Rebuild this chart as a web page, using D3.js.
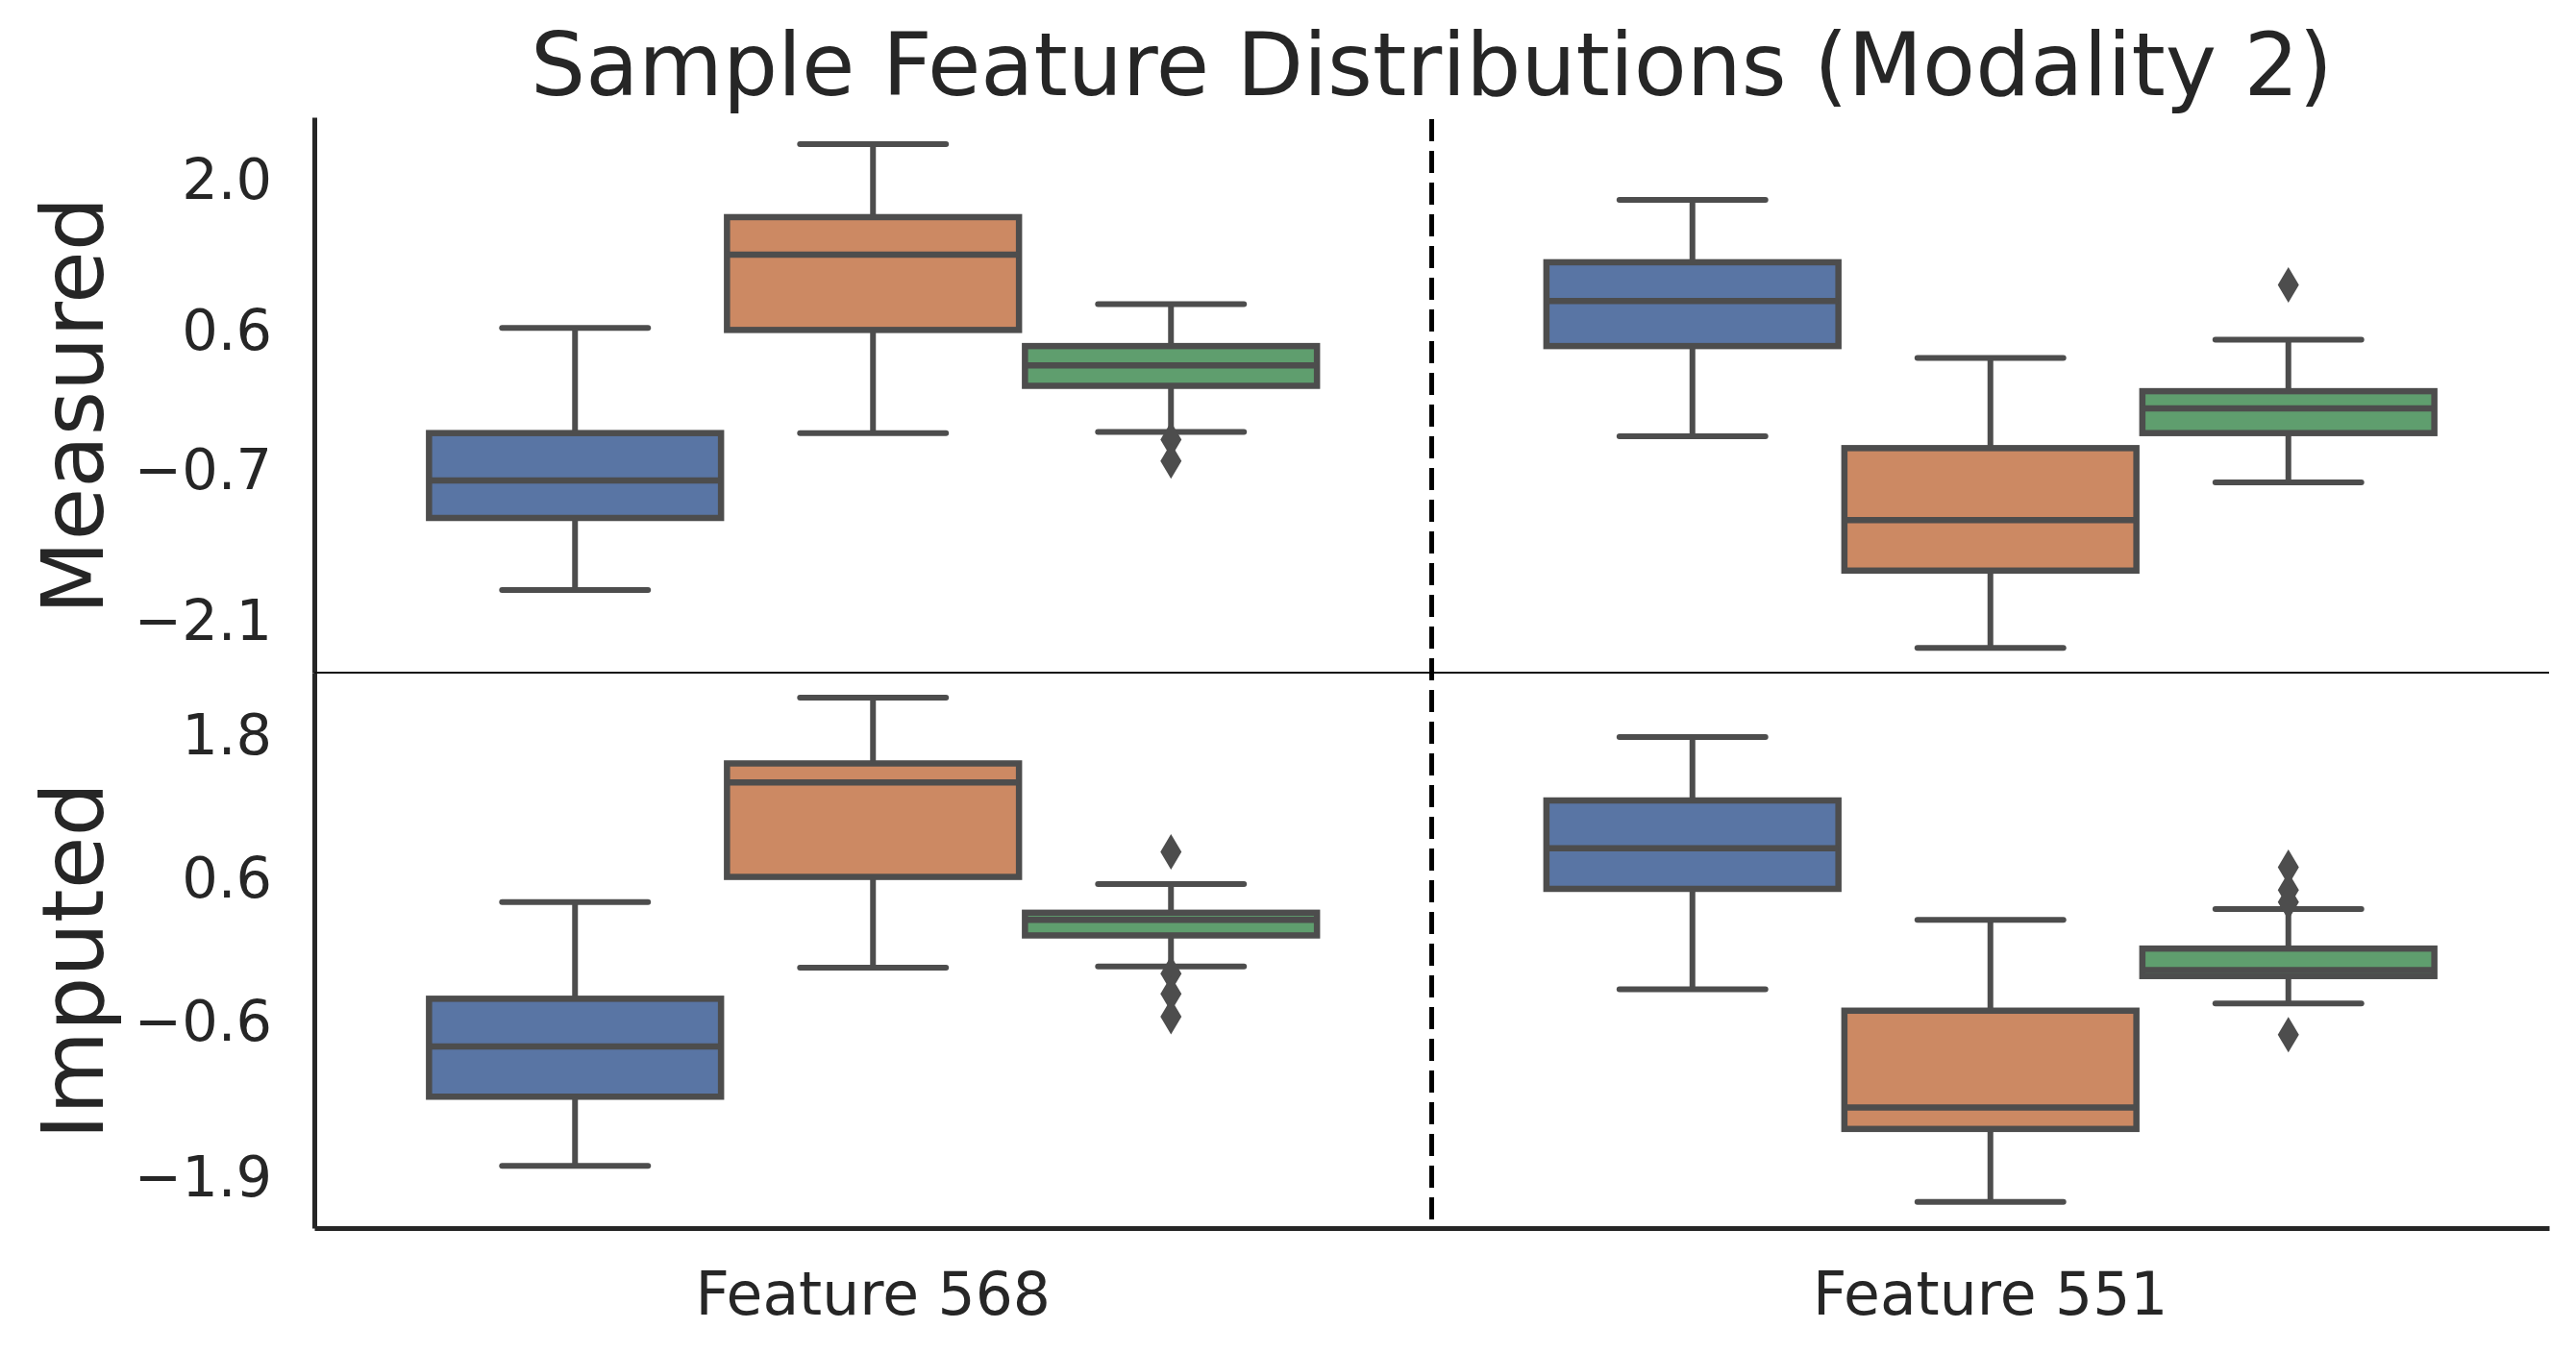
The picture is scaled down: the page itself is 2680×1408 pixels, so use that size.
<!DOCTYPE html>
<html>
<head>
<meta charset="utf-8">
<script src="https://cdn.jsdelivr.net/npm/d3@7"></script>
<style>
  body { margin: 0; background: #ffffff; }
  svg { display: block; font-family: "DejaVu Sans", sans-serif; }
</style>
</head>
<body>
<svg id="chart" width="2680" height="1408"></svg>
<script>
/** Categories on the x axis and the rows of the figure */
var features = ["Feature 568", "Feature 551"];
var panels = ["Measured", "Imputed"];

/** Colours of the three hue groups (seaborn deep, desaturated) */
var hueColors = ["#5975a4", "#cc8963", "#5f9e6e"];

/** Y tick values and y limits per row */
var measuredTicks = [2.0, 0.6, -0.7, -2.1];
var imputedTicks = [1.8, 0.6, -0.6, -1.9];
var measuredDomain = [-2.6, 2.57];
var imputedDomain = [-2.34, 2.31];

/** Box stats: [low whisker, Q1, median, Q3, high whisker], per feature then per hue */
var measuredStats = [
    [[-1.83, -1.16, -0.81, -0.37, 0.61], [-0.37, 0.59, 1.29, 1.64, 2.32], [-0.36, 0.07, 0.26, 0.44, 0.83]],
    [[-0.40, 0.44, 0.86, 1.22, 1.80], [-2.37, -1.65, -1.18, -0.51, 0.33], [-0.83, -0.37, -0.14, 0.02, 0.50]]
];
var imputedStats = [
    [[-1.82, -1.24, -0.82, -0.42, 0.39], [-0.16, 0.60, 1.39, 1.55, 2.10], [-0.15, 0.11, 0.24, 0.30, 0.54]],
    [[-0.34, 0.50, 0.84, 1.24, 1.77], [-2.12, -1.51, -1.33, -0.52, 0.24], [-0.46, -0.23, -0.18, 0.00, 0.33]]
];

/** Fliers, per feature then per hue */
var measuredOutliers = [[[], [], [-0.43, -0.63]], [[], [], [1.01]]];
var imputedOutliers = [[[], [], [0.81, -0.21, -0.38, -0.57]], [[], [], [0.68, 0.49, 0.39, -0.72]]];

/** Layout */
var plotLeft = 327, plotRight = 2652, plotTop = 122, panelHeight = 578;
var textColor = "#262626",
    lineColor = "#4d4d4d",
    lineWidth = 6;

var svg = d3.select("#chart");

var xScale = d3.scaleBand()
    .domain(features)
    .range([plotLeft, plotRight])
    .padding(0);

// hue offsets inside a category (seaborn width 0.8)
var hueScale = d3.scaleBand()
    .domain(d3.range(hueColors.length))
    .range([-0.4 * xScale.bandwidth(), 0.4 * xScale.bandwidth()]);

var boxWidth = hueScale.bandwidth() * 0.98;

var rows = [
    {name: panels[0], domain: measuredDomain, ticks: measuredTicks, stats: measuredStats, outliers: measuredOutliers},
    {name: panels[1], domain: imputedDomain, ticks: imputedTicks, stats: imputedStats, outliers: imputedOutliers}
];

rows.forEach(function(row, r) {
    var y0 = plotTop + r * panelHeight;
    var yScale = d3.scaleLinear()
        .domain(row.domain)
        .range([y0 + panelHeight, y0]);
    drawPanel(row, yScale, y0);
});

/**
 * Draws one row: left spine, tick labels, row label and the boxes.
 */
function drawPanel(row, yScale, y0) {
    var g = svg.append("g");

    var yAxis = d3.axisLeft(yScale)
        .tickValues(row.ticks)
        .tickFormat(d3.format(".1f"))
        .tickSize(0)
        .tickSizeOuter(0)
        .tickPadding(44);

    var axisG = g.append("g")
        .attr("transform", "translate(" + plotLeft + ",0)")
        .call(yAxis);
    axisG.select(".domain")
        .attr("stroke", textColor)
        .attr("stroke-width", 5);
    axisG.selectAll("text")
        .attr("font-family", "DejaVu Sans")
        .attr("font-size", 59)
        .attr("fill", textColor)
        .attr("dy", "0.36em");

    // row label
    g.append("text")
        .attr("transform", "translate(107," + (y0 + panelHeight / 2 + 11) + ") rotate(-90)")
        .attr("text-anchor", "middle")
        .attr("font-size", 89)
        .attr("fill", textColor)
        .text(row.name);

    // flatten boxes
    var boxes = [];
    features.forEach(function(f, i) {
        row.stats[i].forEach(function(s, h) {
            boxes.push({
                cx: xScale(f) + xScale.bandwidth() / 2 + hueScale(h) + hueScale.bandwidth() / 2,
                s: s,
                color: hueColors[h],
                fliers: row.outliers[i][h]
            });
        });
    });

    var bg = g.selectAll("g.box")
        .data(boxes)
        .enter()
        .append("g")
        .attr("class", "box");

    // whiskers
    bg.append("line")
        .attr("x1", function(d) { return d.cx; })
        .attr("x2", function(d) { return d.cx; })
        .attr("y1", function(d) { return yScale(d.s[0]); })
        .attr("y2", function(d) { return yScale(d.s[1]); })
        .attr("stroke", lineColor)
        .attr("stroke-width", lineWidth);
    bg.append("line")
        .attr("x1", function(d) { return d.cx; })
        .attr("x2", function(d) { return d.cx; })
        .attr("y1", function(d) { return yScale(d.s[3]); })
        .attr("y2", function(d) { return yScale(d.s[4]); })
        .attr("stroke", lineColor)
        .attr("stroke-width", lineWidth);

    // box
    bg.append("rect")
        .attr("x", function(d) { return d.cx - boxWidth / 2; })
        .attr("width", boxWidth)
        .attr("y", function(d) { return yScale(d.s[3]); })
        .attr("height", function(d) { return yScale(d.s[1]) - yScale(d.s[3]); })
        .attr("fill", function(d) { return d.color; })
        .attr("stroke", lineColor)
        .attr("stroke-width", lineWidth + 0.5);

    // median
    bg.append("line")
        .attr("x1", function(d) { return d.cx - boxWidth / 2; })
        .attr("x2", function(d) { return d.cx + boxWidth / 2; })
        .attr("y1", function(d) { return yScale(d.s[2]); })
        .attr("y2", function(d) { return yScale(d.s[2]); })
        .attr("stroke", lineColor)
        .attr("stroke-width", lineWidth + 0.5);

    // caps
    [0, 4].forEach(function(k) {
        bg.append("line")
            .attr("x1", function(d) { return d.cx - boxWidth / 4; })
            .attr("x2", function(d) { return d.cx + boxWidth / 4; })
            .attr("y1", function(d) { return yScale(d.s[k]); })
            .attr("y2", function(d) { return yScale(d.s[k]); })
            .attr("stroke", lineColor)
            .attr("stroke-width", lineWidth)
            .attr("stroke-linecap", "round");
    });

    // fliers as thin diamonds
    bg.selectAll("path.flier")
        .data(function(d) {
            return d.fliers.map(function(v) { return {cx: d.cx, v: v}; });
        })
        .enter()
        .append("path")
        .attr("class", "flier")
        .attr("d", "M0,-18.5L11,0L0,18.5L-11,0Z")
        .attr("transform", function(d) { return "translate(" + d.cx + "," + yScale(d.v) + ")"; })
        .attr("fill", lineColor);
}

// thin separator between the rows
svg.append("line")
    .attr("x1", plotLeft)
    .attr("x2", plotRight)
    .attr("y1", plotTop + panelHeight)
    .attr("y2", plotTop + panelHeight)
    .attr("stroke", "#111111")
    .attr("stroke-width", 2);

// x axis on the bottom row
var xAxis = d3.axisBottom(xScale)
    .tickSize(0)
    .tickSizeOuter(0)
    .tickPadding(46);

var xAxisG = svg.append("g")
    .attr("transform", "translate(0," + (plotTop + 2 * panelHeight) + ")")
    .call(xAxis);
xAxisG.select(".domain")
    .attr("stroke", textColor)
    .attr("stroke-width", 5);
xAxisG.selectAll("text")
    .attr("font-family", "DejaVu Sans")
    .attr("font-size", 61.5)
    .attr("fill", textColor);

// dashed divider between the features
svg.append("line")
    .attr("x1", xScale(features[1]))
    .attr("x2", xScale(features[1]))
    .attr("y1", plotTop + 2)
    .attr("y2", plotTop + 2 * panelHeight)
    .attr("stroke", "#000000")
    .attr("stroke-width", 5)
    .attr("stroke-dasharray", "23,10");

// title
svg.append("text")
    .attr("x", (plotLeft + plotRight) / 2)
    .attr("y", 99)
    .attr("text-anchor", "middle")
    .attr("font-size", 90)
    .attr("fill", textColor)
    .text("Sample Feature Distributions (Modality 2)");
</script>
</body>
</html>
